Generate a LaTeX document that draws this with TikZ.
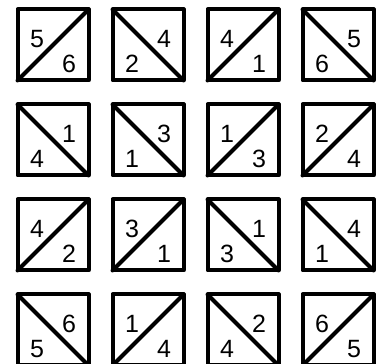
\documentclass[tikz,border=0pt]{standalone}
\usepackage{fontspec}
\setmainfont{Liberation Sans}

\begin{document}
\begin{tikzpicture}[x=1pt,y=1pt,
    tile/.style={line width=4pt,line join=round},
    diag/.style={line width=4pt,line cap=round},
    digit/.style={font=\fontsize{25}{25}\selectfont,inner sep=0pt}]
    \useasboundingbox (0,0) rectangle (378,364);

    % column/row/diagonal (1 = /, -1 = \)/upper/lower
    \foreach \col/\row/\d/\up/\lo in {0/0/1/5/6, 1/0/-1/4/2, 2/0/1/4/1, 3/0/-1/5/6,
                                      0/1/-1/1/4, 1/1/-1/3/1, 2/1/1/1/3, 3/1/1/2/4,
                                      0/2/1/4/2, 1/2/1/3/1, 2/2/-1/1/3, 3/2/-1/4/1,
                                      0/3/-1/6/5, 1/3/1/1/4, 2/3/-1/2/4, 3/3/1/6/5} {
      \begin{scope}[shift={(53+95*\col,319-95*\row)}]
        \draw[tile] (-35.5,-35.5) rectangle (35.5,35.5);
        \draw[diag] (-35.5*\d,-35.5) -- (35.5*\d,35.5);
        \node[digit] (u\col\row) at (-16*\d,6) {\up};
        \node[digit] (l\col\row) at (16*\d,-19) {\lo};
      \end{scope}
    }
\end{tikzpicture}
\end{document}
